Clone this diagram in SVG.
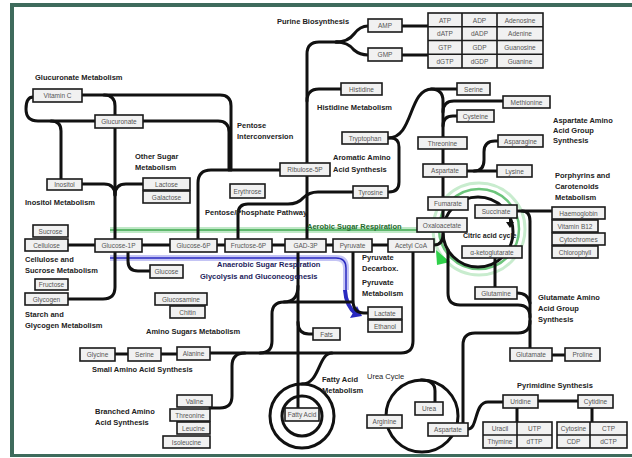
<svg xmlns="http://www.w3.org/2000/svg" width="632" height="458" viewBox="0 0 632 458">
<style>
.n rect{fill:#f1f1f1;stroke:#1a1a1a;stroke-width:1.6}
.n text,.tb text{font-family:"Liberation Sans",Arial,sans-serif;font-size:6.5px;fill:#555;text-anchor:middle}
.tb rect,.tb line{fill:#f1f1f1;stroke:#1a1a1a;stroke-width:1.6}
.lb{font-family:"Liberation Sans",Arial,sans-serif;font-size:7.5px;font-weight:bold;fill:#222}
.c path{fill:none;stroke:#111;stroke-width:3;stroke-linecap:round;stroke-linejoin:round}
.c circle{fill:none;stroke:#111;stroke-width:3}
</style>
<rect x="0" y="0" width="632" height="458" fill="#fff"/>
<path d="M12,457 V5 H640" fill="none" stroke="#3e6b5c" stroke-width="4"/>
<path d="M12,455.5 H640" fill="none" stroke="#3e6b5c" stroke-width="3"/>

<!-- coloured pathways -->
<g id="pathways">
<path d="M110,230 H440" stroke="#bfe8c6" stroke-width="6" fill="none"/>
<path d="M110,230 H440" stroke="#3fa84f" stroke-width="1.5" fill="none"/>
<circle cx="479" cy="229" r="46" fill="none" stroke="#c8ecce" stroke-width="3"/>
<circle cx="479" cy="229" r="40" fill="none" stroke="#6cc47b" stroke-width="2.5"/>
<polygon points="436,250 450,262 437,265" fill="#2fd04a"/>
<path d="M110,258 H336 Q346,258 346,268 V290" stroke="#c4c4f4" stroke-width="6" fill="none"/>
<path d="M110,258 H336 Q346,258 346,268 V290" stroke="#2a2ac0" stroke-width="1.5" fill="none"/>
<path d="M345,290 Q346,306 356,314" stroke="#2a2ac0" stroke-width="4" fill="none"/>
<polygon points="350,318 362,316 357,306" fill="#2a2ac0"/>
</g>

<g class="c" id="connectors">
<path d="M33,97 Q26,97 26,109 Q26,121 38,121 H95"/>
<path d="M82,95 H220 Q231,95 231,106 V170"/>
<path d="M104,95 Q115,95 115,106 V115"/>
<path d="M143,121 H218 Q229,121 229,132 V170"/>
<path d="M51,121 Q61,121 61,131 V179"/>
<path d="M115,128 V287 Q115,299 103,299 H68"/>
<path d="M82,184 H104 Q115,184 115,195"/>
<path d="M115,195 Q115,184 126,184 H143"/>
<path d="M68,245 H95"/>
<path d="M142,245 H170 M217,245 H225 M272,245 H285 M326,245 H333 M372,245 H388"/>
<path d="M128,252 V261 Q128,271 138,271 H150"/>
<path d="M280,170 H211 Q198,170 198,183 V239"/>
<path d="M307,239 V54 Q307,42 319,42 H338"/>
<path d="M336,42 Q348,42 354,34 Q360,26 368,26"/>
<path d="M336,42 Q348,42 354,50 Q360,55 368,55"/>
<path d="M402,26 H428 M402,55 H428"/>
<path d="M307,101 Q307,89 319,89 H341"/>
<path d="M388,138 C414,138 408,89 432,89 H457"/>
<path d="M388,138 H391 Q399,138 399,147 V182 Q399,192 389,192"/>
<path d="M353,192 H318 Q309,192 303,198 Q298,204 288,204 H248 Q238,204 238,214 V239"/>
<path d="M431,89 Q443,89 443,101 V232"/>
<path d="M443,112 Q443,101 454,101 H503"/>
<path d="M443,126 Q443,116 453,116 H457"/>
<path d="M467,171 H497"/>
<path d="M474,171 Q484,171 484,160 V152 Q484,141 495,141 H498"/>
<path d="M434,245 Q443,245 443,234"/>
<path d="M353,252 V300 Q353,313 364,313 H368"/>
<path d="M298,252 V408"/>
<path d="M298,286 Q298,302 284,302"/>
<path d="M352,302 H284 Q272,302 272,314 V341 Q272,353 260,353"/>
<path d="M210,353 H401 Q413,353 413,341 V252"/>
<path d="M115,354 H128 M161,354 H177"/>
<path d="M298,322 Q298,334 309,334 H313"/>
<path d="M332,353 C318,353 320,384 302,384"/>
<path d="M210,408 H220 Q232,408 232,396 V366 Q232,353 245,353"/>
<circle cx="302" cy="416" r="32"/>
<circle cx="302" cy="416" r="20"/>
<circle cx="422" cy="416" r="36"/>
<path d="M421,380 Q435,380 435,391 V402"/>
<path d="M463,423 V345 Q463,333 475,333 H518 Q530,333 530,321"/>
<path d="M468,429 C478,429 474,402 488,402 H503"/>
<path d="M517,211 H552"/>
<path d="M522,211 Q530,211 530,221 V348"/>
<path d="M448,250 V293 Q448,305 460,305 H518 Q530,305 530,317"/>
<path d="M495,258 V287"/>
<path d="M517,293 Q528,293 530,303"/>
<path d="M552,355 H565"/>
<path d="M538,401 H578 M517,408 V422 M592,408 V422"/>
<circle cx="478" cy="232" r="35"/>
<path d="M510,219 V224" style="stroke-width:2"/>
</g>
<polygon points="506,222 514,222 510,228" fill="#111"/>

<!-- nodes -->
<g id="n-amp" class="n"><rect x="368" y="19" width="34" height="13"/><text x="385" y="28">AMP</text></g>
<g id="n-gmp" class="n"><rect x="368" y="48" width="34" height="13"/><text x="385" y="57">GMP</text></g>
<g id="n-purine-table" class="tb">
<rect x="428" y="13" width="115" height="55"/>
<line x1="428" y1="26.75" x2="543" y2="26.75"/><line x1="428" y1="40.5" x2="543" y2="40.5"/><line x1="428" y1="54.25" x2="543" y2="54.25"/>
<line x1="462" y1="13" x2="462" y2="68"/><line x1="497" y1="13" x2="497" y2="68"/>
<text x="445" y="22.5">ATP</text><text x="479.5" y="22.5">ADP</text><text x="520" y="22.5">Adenosine</text>
<text x="445" y="36">dATP</text><text x="479.5" y="36">dADP</text><text x="520" y="36">Adenine</text>
<text x="445" y="50">GTP</text><text x="479.5" y="50">GDP</text><text x="520" y="50">Guanosine</text>
<text x="445" y="63.5">dGTP</text><text x="479.5" y="63.5">dGDP</text><text x="520" y="63.5">Guanine</text>
</g>
<g id="n-vitc" class="n"><rect x="33" y="89" width="49" height="13"/><text x="57.5" y="98">Vitamin C</text></g>
<g id="n-glucuronate" class="n"><rect x="95" y="115" width="48" height="13"/><text x="119" y="124">Glucuronate</text></g>
<g id="n-histidine" class="n"><rect x="341" y="83" width="41" height="12"/><text x="361.5" y="91.5">Histidine</text></g>
<g id="n-ribulose" class="n"><rect x="280" y="163" width="50" height="13"/><text x="305" y="172">Ribulose-5P</text></g>
<g id="n-tryptophan" class="n"><rect x="342" y="132" width="46" height="12"/><text x="365" y="140.5">Tryptophan</text></g>
<g id="n-tyrosine" class="n"><rect x="353" y="186" width="35" height="12"/><text x="370.5" y="194.5">Tyrosine</text></g>
<g id="n-erythrose" class="n"><rect x="230" y="184" width="35" height="14"/><text x="247.5" y="193.5">Erythrose</text></g>
<g id="n-serine1" class="n"><rect x="457" y="83" width="33" height="12"/><text x="473.5" y="91.5">Serine</text></g>
<g id="n-methionine" class="n"><rect x="503" y="96" width="47" height="12"/><text x="526.5" y="104.5">Methionine</text></g>
<g id="n-cysteine" class="n"><rect x="457" y="110" width="37" height="12"/><text x="475.5" y="118.5">Cysteine</text></g>
<g id="n-threonine1" class="n"><rect x="418" y="137" width="49" height="12"/><text x="442.5" y="145.5">Threonine</text></g>
<g id="n-aspartate1" class="n"><rect x="423" y="164" width="44" height="13"/><text x="445" y="173">Aspartate</text></g>
<g id="n-asparagine" class="n"><rect x="498" y="135" width="45" height="12"/><text x="520.5" y="143.5">Asparagine</text></g>
<g id="n-lysine" class="n"><rect x="497" y="165" width="35" height="12"/><text x="514.5" y="173.5">Lysine</text></g>
<g id="n-inositol" class="n"><rect x="47" y="179" width="35" height="11"/><text x="64.5" y="187">Inositol</text></g>
<g id="n-lactose" class="n"><rect x="143" y="178" width="47" height="12"/><text x="166.5" y="186.5">Lactose</text></g>
<g id="n-galactose" class="n"><rect x="143" y="191" width="47" height="12"/><text x="166.5" y="199.5">Galactose</text></g>
<g id="n-fumarate" class="n"><rect x="428" y="197" width="40" height="13"/><text x="448" y="206">Fumarate</text></g>
<g id="n-oxaloacetate" class="n"><rect x="417" y="218" width="50" height="14"/><text x="442" y="227.5">Oxaloacetate</text></g>
<g id="n-succinate" class="n"><rect x="475" y="205" width="42" height="13"/><text x="496" y="214">Succinate</text></g>
<g id="n-akg" class="n"><rect x="462" y="246" width="60" height="12"/><text x="492" y="254.5">α-ketoglutarate</text></g>
<g id="n-haemoglobin" class="n"><rect x="552" y="207" width="53" height="12"/><text x="578.5" y="215.5">Haemoglobin</text></g>
<g id="n-vitb12" class="n"><rect x="552" y="220" width="46" height="12"/><text x="575" y="228.5">Vitamin B12</text></g>
<g id="n-cytochromes" class="n"><rect x="552" y="233" width="53" height="12"/><text x="578.5" y="241.5">Cytochromes</text></g>
<g id="n-chlorophyll" class="n"><rect x="552" y="246" width="46" height="12"/><text x="575" y="254.5">Chlorophyll</text></g>
<g id="n-sucrose" class="n"><rect x="33" y="225" width="35" height="12"/><text x="50.5" y="233.5">Sucrose</text></g>
<g id="n-cellulose" class="n"><rect x="25" y="239" width="43" height="12"/><text x="46.5" y="247.5">Cellulose</text></g>
<g id="n-glucose1p" class="n"><rect x="95" y="239" width="47" height="13"/><text x="118.5" y="248">Glucose-1P</text></g>
<g id="n-glucose6p" class="n"><rect x="170" y="239" width="47" height="13"/><text x="193.5" y="248">Glucose-6P</text></g>
<g id="n-fructose6p" class="n"><rect x="225" y="239" width="47" height="13"/><text x="248.5" y="248">Fructose-6P</text></g>
<g id="n-gad3p" class="n"><rect x="285" y="239" width="41" height="13"/><text x="305.5" y="248">GAD-3P</text></g>
<g id="n-pyruvate" class="n"><rect x="333" y="239" width="39" height="13"/><text x="352.5" y="248">Pyruvate</text></g>
<g id="n-acetylcoa" class="n"><rect x="388" y="239" width="46" height="13"/><text x="411" y="248">Acetyl CoA</text></g>
<g id="n-glucose" class="n"><rect x="150" y="265" width="33" height="13"/><text x="166.5" y="274">Glucose</text></g>
<g id="n-fructose" class="n"><rect x="35" y="279" width="33" height="11"/><text x="51.5" y="287">Fructose</text></g>
<g id="n-glycogen" class="n"><rect x="25" y="293" width="43" height="12"/><text x="46.5" y="301.5">Glycogen</text></g>
<g id="n-glucosamine" class="n"><rect x="155" y="293" width="52" height="12"/><text x="181" y="301.5">Glucosamine</text></g>
<g id="n-chitin" class="n"><rect x="170" y="306" width="35" height="12"/><text x="187.5" y="314.5">Chitin</text></g>
<g id="n-glutamine" class="n"><rect x="475" y="287" width="42" height="12"/><text x="496" y="295.5">Glutamine</text></g>
<g id="n-lactate" class="n"><rect x="368" y="307" width="34" height="12"/><text x="385" y="315.5">Lactate</text></g>
<g id="n-ethanol" class="n"><rect x="368" y="320" width="34" height="12"/><text x="385" y="328.5">Ethanol</text></g>
<g id="n-fats" class="n"><rect x="313" y="328" width="27" height="12"/><text x="326.5" y="336.5">Fats</text></g>
<g id="n-glycine" class="n"><rect x="80" y="348" width="35" height="13"/><text x="97.5" y="357">Glycine</text></g>
<g id="n-serine2" class="n"><rect x="128" y="348" width="33" height="13"/><text x="144.5" y="357">Serine</text></g>
<g id="n-alanine" class="n"><rect x="177" y="347" width="33" height="13"/><text x="193.5" y="356">Alanine</text></g>
<g id="n-glutamate" class="n"><rect x="510" y="348" width="42" height="13"/><text x="531" y="357">Glutamate</text></g>
<g id="n-proline" class="n"><rect x="565" y="348" width="35" height="13"/><text x="582.5" y="357">Proline</text></g>
<g id="n-valine" class="n"><rect x="177" y="395" width="35" height="12"/><text x="194.5" y="403.5">Valine</text></g>
<g id="n-threonine2" class="n"><rect x="170" y="409" width="40" height="12"/><text x="190" y="417.5">Threonine</text></g>
<g id="n-isoleucine" class="n"><rect x="177" y="422" width="33" height="12"/><text x="193.5" y="430.5">Leucine</text></g>
<g id="n-norleucine" class="n"><rect x="163" y="436" width="47" height="12"/><text x="186.5" y="444.5">Isoleucine</text></g>
<g id="n-fattyacid" class="n"><rect x="285" y="408" width="34" height="13"/><text x="302" y="417">Fatty Acid</text></g>
<g id="n-urea" class="n"><rect x="415" y="402" width="28" height="13"/><text x="429" y="411">Urea</text></g>
<g id="n-arginine" class="n"><rect x="367" y="415" width="35" height="13"/><text x="384.5" y="424">Arginine</text></g>
<g id="n-aspartate2" class="n"><rect x="428" y="423" width="40" height="13"/><text x="448" y="432">Aspartate</text></g>
<g id="n-uridine" class="n"><rect x="503" y="395" width="35" height="13"/><text x="520.5" y="404">Uridine</text></g>
<g id="n-cytidine" class="n"><rect x="578" y="395" width="35" height="13"/><text x="595.5" y="404">Cytidine</text></g>
<g id="n-pyr-table1" class="tb">
<rect x="483" y="422" width="69" height="26"/><line x1="483" y1="435" x2="552" y2="435"/><line x1="517" y1="422" x2="517" y2="448"/>
<text x="500" y="431">Uracil</text><text x="534.5" y="431">UTP</text><text x="500" y="444">Thymine</text><text x="534.5" y="444">dTTP</text>
</g>
<g id="n-pyr-table2" class="tb">
<rect x="557" y="422" width="70" height="26"/><line x1="557" y1="435" x2="627" y2="435"/><line x1="590" y1="422" x2="590" y2="448"/>
<text x="573.5" y="431">Cytosine</text><text x="608.5" y="431">CTP</text><text x="573.5" y="444">CDP</text><text x="608.5" y="444">dCTP</text>
</g>

<!-- labels -->
<g id="labels" class="lb">
<text class="lb" x="277" y="24">Purine Biosynthesis</text>
<text class="lb" x="35" y="80">Glucuronate Metabolism</text>
<text class="lb" x="237" y="128">Pentose</text>
<text class="lb" x="237" y="139">Interconversion</text>
<text class="lb" x="317" y="110">Histidine Metabolism</text>
<text class="lb" x="135" y="159">Other Sugar</text>
<text class="lb" x="135" y="170">Metabolism</text>
<text class="lb" x="333" y="160">Aromatic Amino</text>
<text class="lb" x="333" y="172">Acid Synthesis</text>
<text class="lb" x="553" y="123">Aspartate Amino</text>
<text class="lb" x="553" y="133">Acid Group</text>
<text class="lb" x="553" y="143">Synthesis</text>
<text class="lb" x="25" y="205">Inositol Metabolism</text>
<text class="lb" x="205" y="215">Pentose/Phosphate Pathway</text>
<text class="lb" x="307" y="229" style="fill:#1f6b2e">Aerobic Sugar Respiration</text>
<text class="lb" x="555" y="178">Porphyrins and</text>
<text class="lb" x="555" y="189">Carotenoids</text>
<text class="lb" x="555" y="200">Metabolism</text>
<text class="lb" x="463" y="238" style="font-size:7px">Citric acid cycle</text>
<text class="lb" x="25" y="262">Cellulose and</text>
<text class="lb" x="25" y="273">Sucrose Metabolism</text>
<text class="lb" x="217" y="267" style="fill:#1c1c5c">Anaerobic Sugar Respiration</text>
<text class="lb" x="200" y="279" style="fill:#1c1c5c">Glycolysis and Gluconeogenesis</text>
<text class="lb" x="362" y="260">Pyruvate</text>
<text class="lb" x="362" y="271">Decarbox.</text>
<text class="lb" x="362" y="285">Pyruvate</text>
<text class="lb" x="362" y="296">Metabolism</text>
<text class="lb" x="25" y="317">Starch and</text>
<text class="lb" x="25" y="328">Glycogen Metabolism</text>
<text class="lb" x="146" y="334">Amino Sugars Metabolism</text>
<text class="lb" x="538" y="300">Glutamate Amino</text>
<text class="lb" x="538" y="311">Acid Group</text>
<text class="lb" x="538" y="322">Synthesis</text>
<text class="lb" x="92" y="372">Small Amino Acid Synthesis</text>
<text class="lb" x="367" y="379" style="font-weight:normal">Urea Cycle</text>
<text class="lb" x="322" y="382">Fatty Acid</text>
<text class="lb" x="322" y="393">Metabolism</text>
<text class="lb" x="517" y="388">Pyrimidine Synthesis</text>
<text class="lb" x="95" y="414">Branched Amino</text>
<text class="lb" x="95" y="425">Acid Synthesis</text>
</g>
</svg>
